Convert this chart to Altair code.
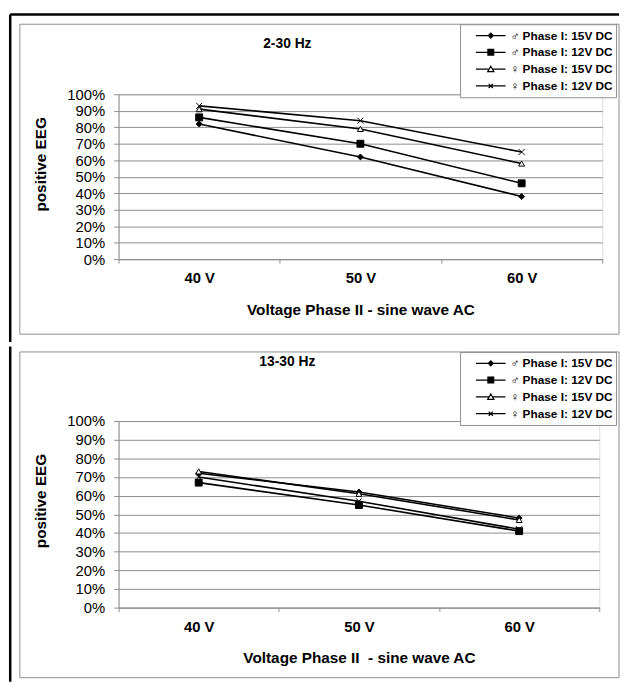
import altair as alt
import pandas as pd

FONT = "Liberation Sans"
GRAY = "#8c8c8c"

voltages = ["40 V", "50 V", "60 V"]
series = ["♂ Phase I: 15V DC", "♂ Phase I: 12V DC", "♀ Phase I: 15V DC", "♀ Phase I: 12V DC"]

# 2-30 Hz
top_m15 = [0.82, 0.62, 0.38]
top_m12 = [0.86, 0.70, 0.46]
top_f15 = [0.91, 0.79, 0.58]
top_f12 = [0.93, 0.84, 0.65]

# 13-30 Hz
bot_m15 = [0.72, 0.62, 0.48]
bot_m12 = [0.67, 0.55, 0.41]
bot_f15 = [0.73, 0.61, 0.47]
bot_f12 = [0.70, 0.57, 0.42]

y_ticks = [0.0, 0.1, 0.2, 0.3, 0.4, 0.5, 0.6, 0.7, 0.8, 0.9, 1.0]

point_shapes = ["diamond", "square", "triangle-up", "M-1,-1L1,1M1,-1L-1,1"]
point_sizes = [36, 49, 36, 36]
point_fills = ["black", "black", "white", "black"]

# legend symbols: a line segment with the marker on it (stroke only, hatched fill)
LINE = "M-0.43,0H1"
legend_shapes = [
    LINE + "M0.29,-0.12L0.41,0L0.29,0.12L0.17,0Z"
    "M0.29,-0.12V0.12M0.24,-0.07V0.07M0.34,-0.07V0.07",
    LINE + "M0.15,-0.14H0.43V0.14H0.15Z"
    "M0.15,-0.1H0.43M0.15,-0.05H0.43M0.15,0.05H0.43M0.15,0.1H0.43",
    "M-0.43,0H0.2M0.38,0H1M0.29,-0.14L0.44,0.12L0.14,0.12Z",
    LINE + "M0.19,-0.1L0.39,0.1M0.39,-0.1L0.19,0.1",
]


def make_df(lists):
    rows = []
    for s, vals in zip(series, lists):
        for v, val in zip(voltages, vals):
            rows.append({"voltage": v, "series": s, "value": val})
    return pd.DataFrame(rows)


def panel(df, title, xtitle, W, H, g):
    x = alt.X(
        "voltage:N",
        sort=voltages,
        scale=alt.Scale(type="band", domain=voltages, paddingInner=0, paddingOuter=0),
        axis=alt.Axis(
            title=xtitle, labelAngle=0, tickBand="extent", grid=False,
            labelFont=FONT, labelFontSize=15, labelFontWeight="bold", labelColor="black",
            tickSize=4, labelPadding=8, titleFont=FONT, titleFontSize=15.5,
            titleFontWeight="bold", titlePadding=17, titleColor="black",
            domainColor=GRAY, tickColor=GRAY,
        ),
    )
    y = alt.Y(
        "value:Q",
        scale=alt.Scale(domain=[0, 1], nice=False),
        axis=alt.Axis(
            title="positive EEG", values=y_ticks, format=".0%", grid=True,
            gridColor=GRAY, gridWidth=1, domainColor=GRAY, tickColor=GRAY,
            labelFont=FONT, labelFontSize=15, labelColor="black",
            tickSize=5, labelPadding=9, titleFont=FONT, titleFontSize=15.5,
            titleFontWeight="bold", titlePadding=19, titleColor="black",
            titleY=g["ytitle"],
        ),
    )
    one = alt.Data(values=[{}])
    box = alt.Chart(one).mark_rect(fill="white", fillOpacity=0, stroke=GRAY, strokeWidth=1).encode(
        x=alt.value(g["box"][0]), x2=alt.value(g["box"][1]),
        y=alt.value(g["box"][2]), y2=alt.value(g["box"][3]),
    )
    frame_layers = [
        alt.Chart(one).mark_rule(color="black", strokeWidth=2.5).encode(
            x=alt.value(g["lx"]), y=alt.value(g["ly"][0]), y2=alt.value(g["ly"][1])
        )
    ]
    if "ty" in g:
        frame_layers.append(
            alt.Chart(one).mark_rule(color="black", strokeWidth=2.5).encode(
                x=alt.value(g["lx"]), x2=alt.value(g["tx2"]), y=alt.value(g["ty"])
            )
        )
    ttl = alt.Chart(one).mark_text(
        text=title, font=FONT, fontSize=14, fontWeight="bold", color="black",
        align="center", baseline="middle",
    ).encode(x=alt.value(g["title"][0]), y=alt.value(g["title"][1]))

    base = alt.Chart(df)
    lines = base.mark_line(color="black", strokeWidth=1.6).encode(x=x, y=y, detail="series:N")
    pts = []
    for s, shp, sz, fl in zip(series, point_shapes, point_sizes, point_fills):
        pts.append(
            base.transform_filter(alt.datum.series == s).mark_point(
                shape=shp, size=sz, filled=False, fill=fl, stroke="black",
                strokeWidth=1, opacity=1,
            ).encode(x=x, y=y)
        )
    leg = base.transform_filter("false").mark_point(
        filled=False, stroke="black", strokeWidth=1.2, size=1764, opacity=1
    ).encode(
        x=x, y=y,
        shape=alt.Shape(
            "series:N",
            scale=alt.Scale(domain=series, range=legend_shapes),
            legend=alt.Legend(
                orient="none", legendX=g["legend"][0], legendY=g["legend"][1], title=None,
                padding=3, fillColor="white", strokeColor=GRAY,
                labelFont=FONT, labelFontSize=12, labelFontWeight="bold", labelColor="black",
                labelOffset=4, clipHeight=17, rowPadding=0, symbolSize=1764,
                symbolStrokeWidth=1.2, symbolFillColor="transparent", symbolStrokeColor="black",
            ),
        ),
    )
    return alt.layer(box, *frame_layers, ttl, lines, *pts, leg).properties(width=W, height=H)


top = panel(
    make_df([top_m15, top_m12, top_f15, top_f12]),
    "2-30 Hz", "Voltage Phase II - sine wave AC", 490, 167,
    {"box": (-100, 507, -71, 243), "lx": -109.75, "ly": (-80.75, 251), "ty": -80.75,
     "tx2": 507, "title": (171, -51), "legend": (346, -71), "ytitle": 70.5},
)
bottom = panel(
    make_df([bot_m15, bot_m12, bot_f15, bot_f12]),
    "13-30 Hz", "Voltage Phase II \u00a0- sine wave AC", 487, 189,
    {"box": (-100, 507, -70, 260), "lx": -109.75, "ly": (-75.5, 264),
     "title": (171, -60), "legend": (346, -70), "ytitle": 80.5},
)

chart = alt.concat(top, bottom, columns=1, spacing=0).resolve_scale(
    shape="independent"
).resolve_legend(shape="independent").properties(
    padding={"left": 0, "top": 0, "right": 0, "bottom": 0}
).configure_view(stroke=GRAY, strokeWidth=1).configure(background="white")

chart.save("out.html", embed_options={"renderer": "svg", "actions": False})
